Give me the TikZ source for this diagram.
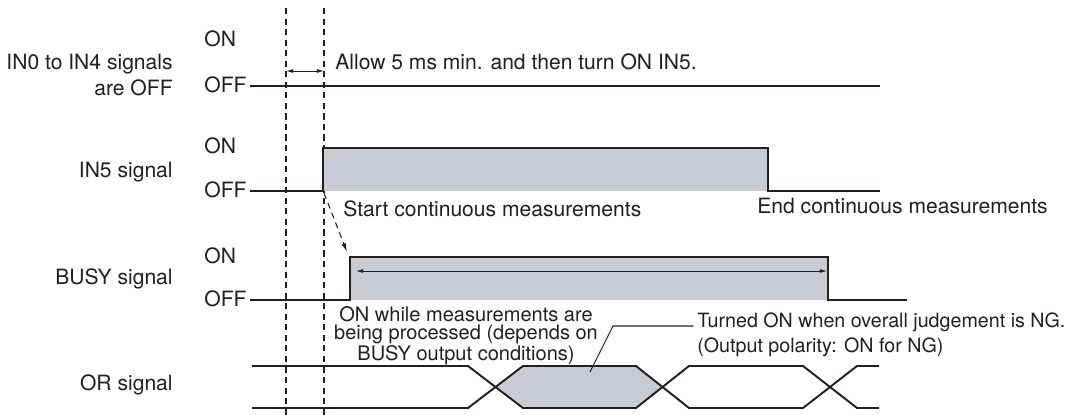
\documentclass[tikz,border=0pt]{standalone}
\usepackage{fontspec}
\setmainfont{TeX Gyre Heros}
\usepackage{tikz}
\usetikzlibrary{positioning,arrows.meta}
\definecolor{ink900} {HTML}{231F20}
\definecolor{grey200}{HTML}{C8CBD3}
\tikzset{
  lvl/.style  ={font=\fontsize{12}{14.7}\selectfont, text=ink900,
                inner sep=0pt, anchor=base west},
  sig/.style  ={font=\fontsize{12}{14.7}\selectfont, text=ink900,
                inner sep=0pt, anchor=east, align=right},
  sigb/.style ={font=\fontsize{12}{14.7}\selectfont, text=ink900,
                inner sep=0pt, anchor=base east},
  wave/.style ={draw=ink900, line width=1.1pt, line join=miter},
  hi/.style   ={fill=grey200, draw=none},
  guide/.style={draw=ink900, line width=0.6pt, dash pattern=on 3.5pt off 2.5pt},
  ar/.style   ={{Latex[length=4pt,width=2.2pt]}-{Latex[length=4pt,width=2.2pt]},
                draw=ink900, line width=0.5pt},
  ard/.style  ={-{Latex[length=5pt,width=2.6pt]}, draw=ink900, line width=0.6pt,
                dash pattern=on 3.5pt off 2.5pt},
  lead/.style ={draw=ink900, line width=0.6pt},
  note/.style ={font=\fontsize{11.2}{14.2}\selectfont, text=ink900,
                inner sep=0pt, align=left, anchor=west},
  notes/.style={font=\fontsize{11.4}{10.4}\selectfont, text=ink900,
                inner sep=0pt, align=center}
}
\begin{document}
\begin{tikzpicture}[x=0.02cm, y=-0.02cm]
\useasboundingbox (0,0) rectangle (1069,415);
% timing guides
\draw[guide] (286,8) -- (286,415);
\draw[guide] (324,8) -- (324,415);

% IN0 to IN4
\node[sig] (in0) at (173,75) {IN0 to IN4 signals\\are OFF};
\node[lvl] (in0on)  at (204,47) {ON};
\node[lvl] (in0off) at (204,93) {OFF};
\draw[wave] (250,86) -- (880,86);
\coordinate (gapl) at (286,71);
\coordinate (gapr) at (324,71);
\draw[ar] (gapl) -- (gapr);
\node[lvl] (allow) at (335,70) {Allow 5 ms min. and then turn ON IN5.};

% IN5
\node[sigb] (in5) at (173,178) {IN5 signal};
\node[lvl] (in5on)  at (204,154) {ON};
\node[lvl] (in5off) at (204,198) {OFF};
\fill[hi] (323,148) rectangle (768,191);
\draw[wave] (250,191) -- (323,191) -- (323,148) -- (768,148) -- (768,191) -- (880,191);
\node[lvl] (start) at (343,217) {Start continuous measurements};
\node[lvl] (end)   at (757,214) {End continuous measurements};

% BUSY
\node[sigb] (busy) at (173,285) {BUSY signal};
\node[lvl] (busyon)  at (204,264) {ON};
\node[lvl] (busyoff) at (204,307) {OFF};
\fill[hi] (350,257) rectangle (828,300);
\draw[wave] (250,300) -- (350,300) -- (350,257) -- (828,257) -- (828,300) -- (907,300);
\coordinate (rise5)    at (324,193);
\coordinate (risebusy) at (347,252);
\draw[ard] (rise5) -- (risebusy);
\coordinate (procl) at (356,271);
\coordinate (procr) at (827,271);
\draw[ar] (procl) -- (procr);
\node[notes] (proc) at (466,336)
  {ON while measurements are\\being processed (depends on\\BUSY output conditions)};

% OR
\node[sigb] (or) at (173,391) {OR signal};
\fill[hi] (495.5,387) -- (523,366) -- (636,366) -- (662.5,387) -- (636,408)
  -- (523,408) -- cycle;
\draw[wave] (252,366) -- (468,366) -- (523,408) -- (636,408) -- (689,366)
  -- (803,366) -- (857,408) -- (879,408);
\draw[wave] (252,408) -- (468,408) -- (523,366) -- (636,366) -- (689,408)
  -- (803,408) -- (857,366) -- (879,366);
\node[note] (ng) at (697,335)
  {Turned ON when overall judgement is NG.\\(Output polarity: ON for NG)};
\coordinate (ngin)   at (590,372);
\coordinate (ngbend) at (613,326);
\draw[lead, shorten >=2pt] (ngin) -- (ngbend) -- (ng.west |- ngbend);
\end{tikzpicture}
\end{document}
